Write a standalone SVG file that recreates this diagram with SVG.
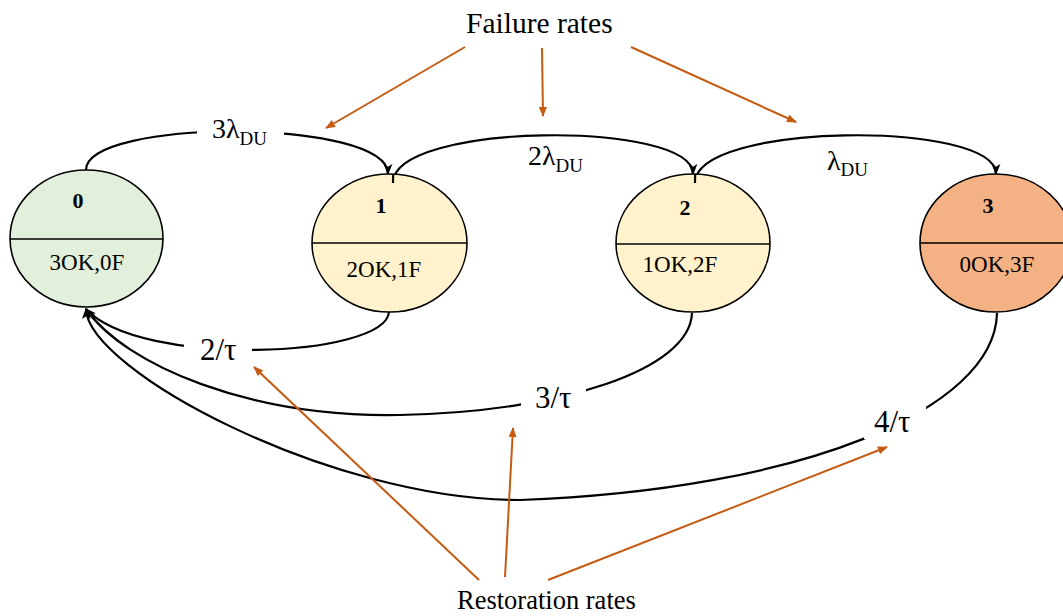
<svg xmlns="http://www.w3.org/2000/svg" width="1063" height="616" viewBox="0 0 1063 616">
  <style>
    text { font-family: "Liberation Serif", "Times New Roman", serif; fill: #000; }
    .state { stroke: #000; stroke-width: 1.6; }
    .divider { stroke: #000; stroke-width: 1.6; }
    .num { font-size: 22px; font-weight: bold; text-anchor: middle; }
    .cfg { font-size: 23px; text-anchor: middle; }
    .edge { fill: none; stroke: #000; stroke-width: 2.2; }
    .pointer { fill: none; stroke: #C55A11; stroke-width: 2; }
    .rate { font-size: 28px; }
    .sub { font-size: 19px; }
    .tau { font-size: 31px; }
    .gap { fill: #fff; stroke: none; }
  </style>
  <defs>
    <marker id="head" viewBox="0 0 10 8" refX="9" refY="4" markerWidth="11" markerHeight="9" markerUnits="userSpaceOnUse" orient="auto">
      <path d="M0,0 L10,4 L0,8 L2.5,4 Z" fill="#000"/>
    </marker>
    <marker id="headOrange" viewBox="0 0 10 8" refX="9" refY="4" markerWidth="11" markerHeight="8" markerUnits="userSpaceOnUse" orient="auto">
      <path d="M0,0 L10,4 L0,8 Z" fill="#C55A11"/>
    </marker>
  </defs>

  <rect width="1063" height="616" fill="#fff"/>

  <!-- transitions between states -->
  <g id="connectors">
    <!-- failures (left to right, over the top) -->
    <path class="edge" d="M86,170 C86,118 388,118 388,174" marker-end="url(#head)"/>
    <path class="edge" d="M393,183 C393,122 693,120 693,174" marker-end="url(#head)"/>
    <path class="edge" d="M695,183 C695,122 996,120 996,174" marker-end="url(#head)"/>
    <!-- restorations (back to state 0, underneath) -->
    <path class="edge" d="M389,312 C385,358 140,368 86,309" marker-end="url(#head)"/>
    <path class="edge" d="M692,313 C690,370 560,412 400,415 C250,418 125,365 86,309" marker-end="url(#head)"/>
    <path class="edge" d="M997,313 C995,410 800,490 520,500 C330,500 88,370 86,309" marker-end="url(#head)"/>
  </g>

  <!-- rate labels, each breaking its line -->
  <g id="rate-labels">
    <rect class="gap" x="197" y="116" width="87" height="34"/>
    <text class="rate" x="212" y="138">3λ<tspan class="sub" dy="7">DU</tspan></text>
    <text class="rate" x="528" y="165">2λ<tspan class="sub" dy="7">DU</tspan></text>
    <text class="rate" x="827" y="170">λ<tspan class="sub" dy="6">DU</tspan></text>

    <rect class="gap" x="184" y="334" width="68" height="30"/>
    <text class="tau" x="200" y="360">2/τ</text>
    <rect class="gap" x="521" y="380" width="65" height="34"/>
    <text class="tau" x="535" y="408">3/τ</text>
    <rect class="gap" x="864" y="399" width="62" height="40"/>
    <text class="tau" x="874" y="432">4/τ</text>
  </g>

  <!-- states -->
  <g id="state-0">
    <ellipse class="state" cx="86.5" cy="238.5" rx="76.5" ry="68.5" fill="#E2EFDA"/>
    <line class="divider" x1="10" y1="239" x2="163" y2="239"/>
    <text class="num" x="78" y="208">0</text>
    <text class="cfg" x="87" y="270">3OK,0F</text>
  </g>
  <g id="state-1">
    <ellipse class="state" cx="389.5" cy="243" rx="77.5" ry="69" fill="#FFF2CC"/>
    <line class="divider" x1="312" y1="243" x2="467" y2="243"/>
    <text class="num" x="381" y="213">1</text>
    <text class="cfg" x="384" y="277">2OK,1F</text>
  </g>
  <g id="state-2">
    <ellipse class="state" cx="693" cy="243" rx="77" ry="69" fill="#FFF2CC"/>
    <line class="divider" x1="616" y1="244" x2="770" y2="244"/>
    <text class="num" x="685" y="215">2</text>
    <text class="cfg" x="680" y="272">1OK,2F</text>
  </g>
  <g id="state-3">
    <ellipse class="state" cx="996" cy="243" rx="76" ry="69" fill="#F4B183"/>
    <line class="divider" x1="920" y1="243" x2="1072" y2="243"/>
    <text class="num" x="988" y="213">3</text>
    <text class="cfg" x="997" y="272">0OK,3F</text>
  </g>

  <!-- the outgoing failure lines start just inside states 1 and 2 -->
  <g id="connector-tails">
    <path class="edge" d="M393,183 C393,180 393,177 393.3,174"/>
    <path class="edge" d="M695,183 C695,180 695,177 695.3,174"/>
  </g>

  <!-- annotation callouts -->
  <g id="annotations">
    <text x="466" y="33" style="font-size:29.5px">Failure rates</text>
    <path class="pointer" d="M465,47 L326,128" marker-end="url(#headOrange)"/>
    <path class="pointer" d="M542,48 L543,116" marker-end="url(#headOrange)"/>
    <path class="pointer" d="M631,47 L796,122" marker-end="url(#headOrange)"/>

    <text x="457" y="609" style="font-size:26.5px">Restoration rates</text>
    <path class="pointer" d="M479,580 L254,367" marker-end="url(#headOrange)"/>
    <path class="pointer" d="M505,577 L513,428" marker-end="url(#headOrange)"/>
    <path class="pointer" d="M548,580 L887,447" marker-end="url(#headOrange)"/>
  </g>
</svg>
